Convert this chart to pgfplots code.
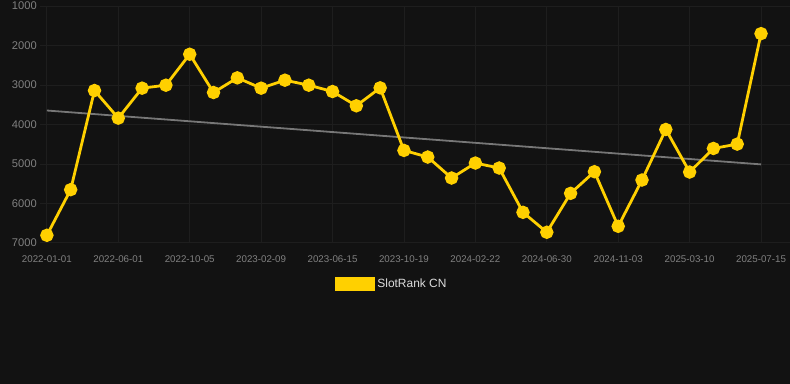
\documentclass[border=0pt]{standalone}
\usepackage{pgfplots}
\pgfplotsset{compat=1.18}
\usepackage{fontspec}
\setmainfont{Liberation Sans}
\definecolor{bgc}{HTML}{121212}
\definecolor{gridc}{HTML}{1E1E1E}
\definecolor{tickc}{HTML}{808080}
\definecolor{legc}{HTML}{DDDDDD}
\definecolor{yel}{HTML}{FFD000}
\definecolor{trendc}{HTML}{777777}
\begin{document}
\begin{tikzpicture}[x=1bp,y=1bp]
\fill[bgc] (0,0) rectangle (790,384);
\begin{axis}[
  at={(40bp,141bp)}, anchor=south west,
  scale only axis, width=750bp, height=237bp,
  xmin=-0.29, xmax=31.2, ymin=1000, ymax=7000, y dir=reverse,
  axis line style={draw=none},
  major tick length=0pt,
  xtick={0,3,...,30},
  xticklabels={2022-01-01,2022-06-01,2022-10-05,2023-02-09,2023-06-15,2023-10-19,2024-02-22,2024-06-30,2024-11-03,2025-03-10,2025-07-15},
  ytick={1000,2000,3000,4000,5000,6000,7000},
  yticklabels={1000,2000,3000,4000,5000,6000,7000},
  grid=major,
  major grid style={draw=gridc, line width=0.8bp},
  xticklabel style={font=\fontsize{9.8}{11}\selectfont, text=tickc, anchor=north, inner sep=0pt, yshift=-13bp},
  yticklabel style={font=\fontsize{11.2}{13}\selectfont, text=tickc, anchor=east, inner sep=0pt, xshift=-3bp},
  legend style={at={(0.469,-0.173)}, anchor=center, draw=none, fill=none, text=legc, font=\fontsize{12}{14}\selectfont, inner sep=0pt},
  legend cell align=left,
]
\addplot[trendc, line width=1.8bp, forget plot] coordinates {(0,3647) (30,5012)};
\addplot[yel, line width=2.8bp, mark=*, mark size=5.3bp, mark options={fill=yel, draw=none},
  legend image code/.code={\fill[yel] (-21bp,-5.5bp) rectangle (17bp,5.5bp);}]
coordinates {
(0,6808) (1,5652) (2,3141) (3,3840) (4,3081) (5,3006) (6,2222) (7,3191)
(8,2820) (9,3081) (10,2879) (11,3006) (12,3166) (13,3528) (14,3073)
(15,4658) (16,4826) (17,5357) (18,4978) (19,5104) (20,6226) (21,6731)
(22,5745) (23,5197) (24,6580) (25,5408) (26,4127) (27,5206) (28,4608)
(29,4498) (30,1700)
};
\addlegendentry{SlotRank CN}
\end{axis}
\end{tikzpicture}
\end{document}
